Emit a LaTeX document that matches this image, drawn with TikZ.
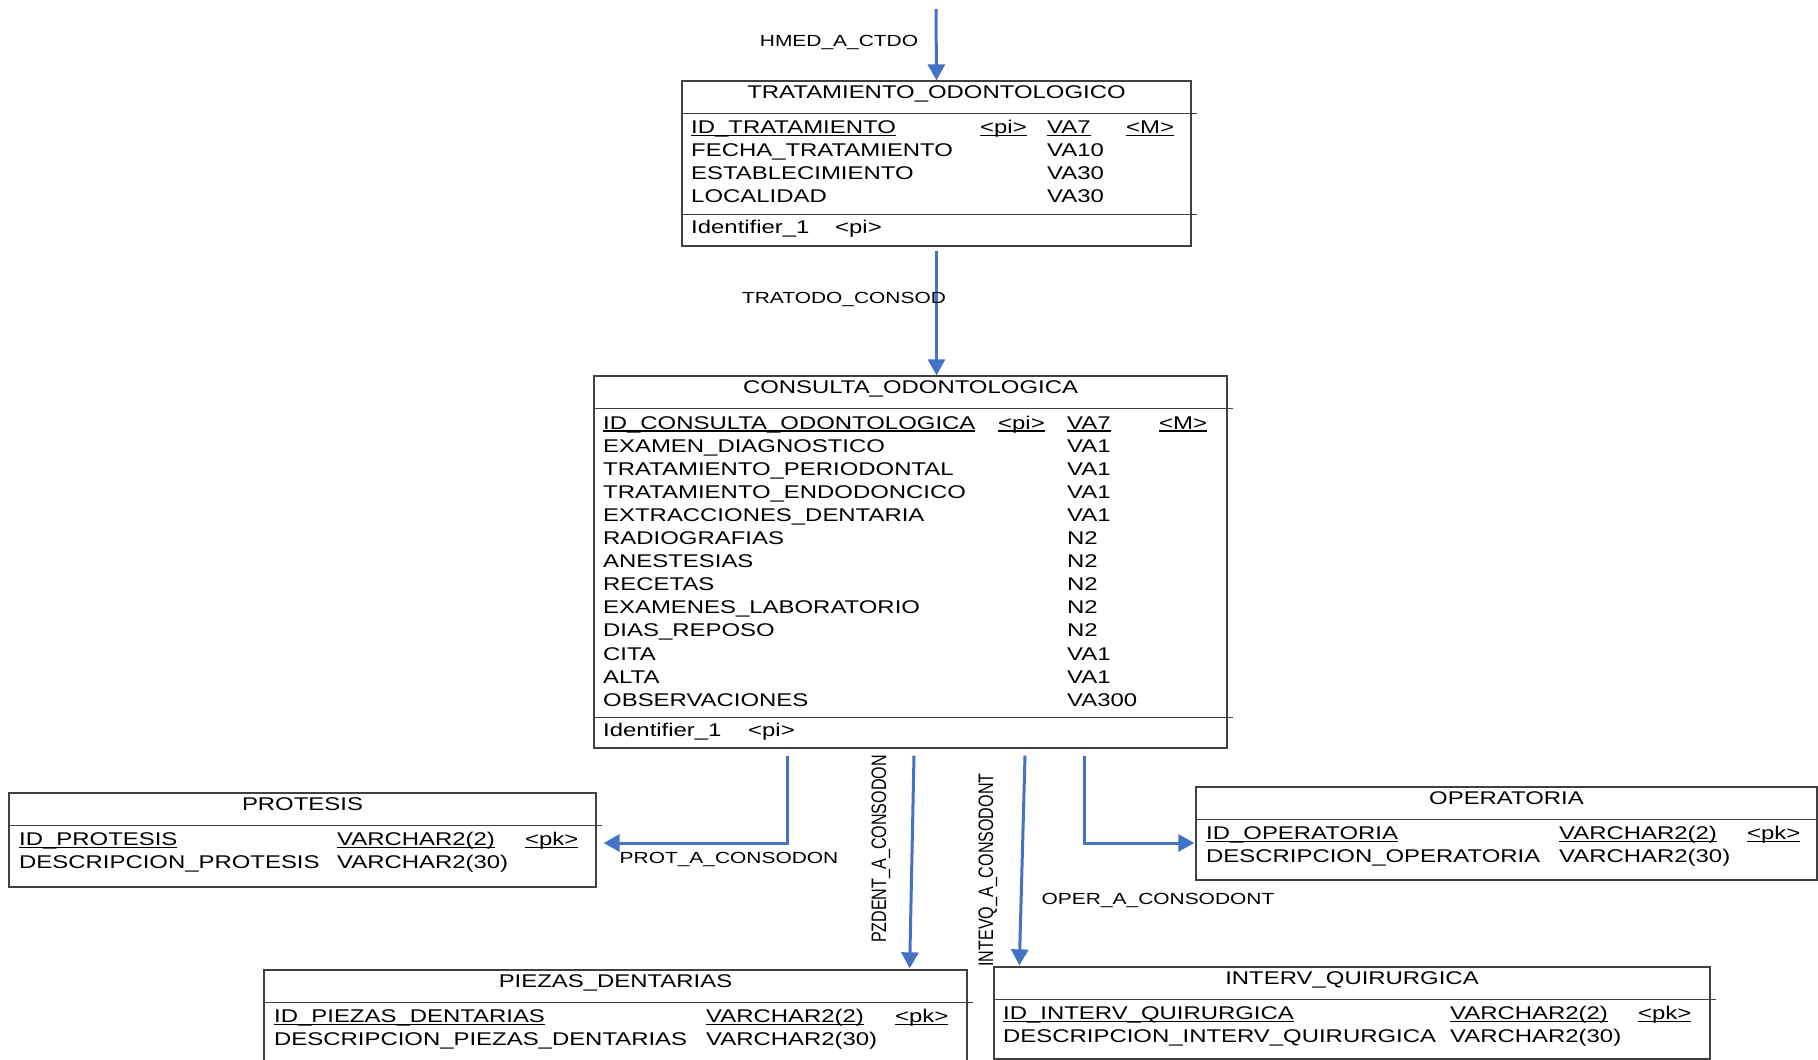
\documentclass[tikz,border=0pt]{standalone}
\usepackage{fontspec}
\usetikzlibrary{arrows.meta, calc}
\newfontfamily\erfont[FakeStretch=1.3]{Liberation Sans}
\newfontfamily\erplain{Liberation Sans}
\definecolor{erblue}{RGB}{68,114,196}
\definecolor{ergray}{RGB}{64,64,64}
\newcommand\tblfont{\erfont\fontsize{18.4pt}{21pt}\selectfont}
\newcommand\lblfont{\erfont\fontsize{16.1pt}{19pt}\selectfont}
\newcommand\vlblfont{\erplain\fontsize{16.1pt}{19pt}\selectfont}
\newcommand\vtext[1]{\scalebox{1}[1.3]{#1}}
\newsavebox\erbox
\newcommand\erul[1]{\sbox\erbox{#1}\rlap{\rule[-2.6pt]{\wd\erbox}{1.2pt}}\usebox\erbox}

\begin{document}
\begin{tikzpicture}[
    x=1pt, y=-1pt,
    box/.style={draw=ergray, line width=1.3pt, inner sep=0pt},
    sep/.style={draw=ergray, line width=1.3pt},
    title/.style={anchor=base, inner sep=0pt, font=\tblfont},
    attr/.style={anchor=base west, inner sep=0pt, font=\tblfont},
    conn/.style={draw=erblue, line width=3pt, -{Triangle[length=16pt, width=17pt]}},
    lbl/.style={inner sep=0pt, font=\lblfont},
    vlbl/.style={inner sep=0pt, font=\vlblfont, rotate=90}
]
    \useasboundingbox (0,0) rectangle (1818,1060);

    % TRATAMIENTO_ODONTOLOGICO
    \node[box, minimum width=509pt, minimum height=165pt] (trat) at (936.5,163.5) {};
    \node[title] (trat-title) at ($(trat.north)+(0,18)$) {TRATAMIENTO\_ODONTOLOGICO};
    \draw[sep] ($(trat.north west)+(0,33)$) -- ($(trat.north east)+(5,33)$);
    \node[attr] (trat-id) at (691,133.5) {\erul{ID\_TRATAMIENTO}};
    \node[attr] (trat-pi) at (980,133.5) {\erul{<pi>}};
    \node[attr] (trat-va) at (1047,133.5) {\erul{VA7}};
    \node[attr] (trat-m) at (1126,133.5) {\erul{<M>}};
    \foreach \n/\t [count=\i] in {FECHA\_TRATAMIENTO/VA10, ESTABLECIMIENTO/VA30, LOCALIDAD/VA30} {
        \node[attr] (trat-n\i) at (691,{133.5+23.1*\i}) {\n};
        \node[attr] (trat-t\i) at (1047,{133.5+23.1*\i}) {\t};
    }
    \draw[sep] ($(trat.south west)+(0,-32)$) -- ($(trat.south east)+(5,-32)$);
    \node[attr] (trat-key) at (691,233.5) {Identifier\_1};
    \node[attr] (trat-keypi) at (835,233.5) {<pi>};

    % CONSULTA_ODONTOLOGICA
    \node[box, minimum width=633pt, minimum height=372pt] (cons) at (910.5,562) {};
    \node[title] (cons-title) at ($(cons.north)+(0,18)$) {CONSULTA\_ODONTOLOGICA};
    \draw[sep] ($(cons.north west)+(0,33)$) -- ($(cons.north east)+(5,33)$);
    \node[attr] (cons-id) at (603,429) {\erul{ID\_CONSULTA\_ODONTOLOGICA}};
    \node[attr] (cons-pi) at (998,429) {\erul{<pi>}};
    \node[attr] (cons-va) at (1067,429) {\erul{VA7}};
    \node[attr] (cons-m) at (1159,429) {\erul{<M>}};
    \foreach \n/\t [count=\i] in {EXAMEN\_DIAGNOSTICO/VA1, TRATAMIENTO\_PERIODONTAL/VA1,
        TRATAMIENTO\_ENDODONCICO/VA1, EXTRACCIONES\_DENTARIA/VA1, RADIOGRAFIAS/N2,
        ANESTESIAS/N2, RECETAS/N2, EXAMENES\_LABORATORIO/N2, DIAS\_REPOSO/N2,
        CITA/VA1, ALTA/VA1, OBSERVACIONES/VA300} {
        \node[attr] (cons-n\i) at (603,{429+23.1*\i}) {\n};
        \node[attr] (cons-t\i) at (1067,{429+23.1*\i}) {\t};
    }
    \draw[sep] ($(cons.south west)+(0,-31)$) -- ($(cons.south east)+(5,-31)$);
    \node[attr] (cons-key) at (603,736.5) {Identifier\_1};
    \node[attr] (cons-keypi) at (748,736.5) {<pi>};

    % PROTESIS
    \node[box, minimum width=587pt, minimum height=94pt] (prot) at (302.5,840) {};
    \node[title] (prot-title) at ($(prot.north)+(0,18)$) {PROTESIS};
    \draw[sep] ($(prot.north west)+(0,33)$) -- ($(prot.north east)+(5,33)$);
    \node[attr] (prot-id) at (19,845.5) {\erul{ID\_PROTESIS}};
    \node[attr] (prot-va) at (337,845.5) {\erul{VARCHAR2(2)}};
    \node[attr] (prot-pk) at (525,845.5) {\erul{<pk>}};
    \node[attr] (prot-d) at (19,868.6) {DESCRIPCION\_PROTESIS};
    \node[attr] (prot-dt) at (337,868.6) {VARCHAR2(30)};

    % OPERATORIA
    \node[box, minimum width=621pt, minimum height=93pt] (oper) at (1506.5,833.5) {};
    \node[title] (oper-title) at ($(oper.north)+(0,18)$) {OPERATORIA};
    \draw[sep] ($(oper.north west)+(0,33)$) -- ($(oper.north east)+(5,33)$);
    \node[attr] (oper-id) at (1206,839.5) {\erul{ID\_OPERATORIA}};
    \node[attr] (oper-va) at (1559,839.5) {\erul{VARCHAR2(2)}};
    \node[attr] (oper-pk) at (1747,839.5) {\erul{<pk>}};
    \node[attr] (oper-d) at (1206,862.6) {DESCRIPCION\_OPERATORIA};
    \node[attr] (oper-dt) at (1559,862.6) {VARCHAR2(30)};

    % PIEZAS_DENTARIAS
    \node[box, minimum width=703pt, minimum height=94pt] (piez) at (615.5,1017) {};
    \node[title] (piez-title) at ($(piez.north)+(0,18)$) {PIEZAS\_DENTARIAS};
    \draw[sep] ($(piez.north west)+(0,33)$) -- ($(piez.north east)+(5,33)$);
    \node[attr] (piez-id) at (274,1022.5) {\erul{ID\_PIEZAS\_DENTARIAS}};
    \node[attr] (piez-va) at (706,1022.5) {\erul{VARCHAR2(2)}};
    \node[attr] (piez-pk) at (895,1022.5) {\erul{<pk>}};
    \node[attr] (piez-d) at (274,1045.6) {DESCRIPCION\_PIEZAS\_DENTARIAS};
    \node[attr] (piez-dt) at (706,1045.6) {VARCHAR2(30)};

    % INTERV_QUIRURGICA
    \node[box, minimum width=716pt, minimum height=92pt] (intv) at (1352,1013) {};
    \node[title] (intv-title) at ($(intv.north)+(0,18)$) {INTERV\_QUIRURGICA};
    \draw[sep] ($(intv.north west)+(0,33)$) -- ($(intv.north east)+(5,33)$);
    \node[attr] (intv-id) at (1003,1019.5) {\erul{ID\_INTERV\_QUIRURGICA}};
    \node[attr] (intv-va) at (1450,1019.5) {\erul{VARCHAR2(2)}};
    \node[attr] (intv-pk) at (1638,1019.5) {\erul{<pk>}};
    \node[attr] (intv-d) at (1003,1042.6) {DESCRIPCION\_INTERV\_QUIRURGICA};
    \node[attr] (intv-dt) at (1450,1042.6) {VARCHAR2(30)};

    % references
    \coordinate (hmed-s) at (936,9);
    \coordinate (tod-s) at ($(trat.south)+(0,4)$);
    \coordinate (prot-s) at ($(cons.south)+(-123.5,7)$);
    \coordinate (prot-e) at ($(prot.east)+(7,3)$);
    \coordinate (pzd-s) at ($(cons.south)+(3.5,7)$);
    \coordinate (pzd-e) at ($(piez.north east)+(-58,-1)$);
    \coordinate (ivq-s) at ($(cons.south)+(114.5,7)$);
    \coordinate (ivq-e) at ($(intv.north west)+(26,-1)$);
    \coordinate (oper-s) at ($(cons.south)+(173.5,7)$);
    \coordinate (oper-e) at ($(oper.west)+(-1,9.5)$);

    \draw[conn] (hmed-s) -- (trat.north);
    \draw[conn] (tod-s) -- (tod-s |- cons.north);
    \draw[conn] (prot-s) |- (prot-e);
    \draw[conn] (pzd-s) -- (pzd-e);
    \draw[conn] (ivq-s) -- (ivq-e);
    \draw[conn] (oper-s) |- (oper-e);

    \node[lbl] (hmed-lbl) at (839,42) {HMED\_A\_CTDO};
    \node[lbl] (tod-lbl) at (844,299) {TRATODO\_CONSOD};
    \node[lbl] (prot-lbl) at (729,859) {PROT\_A\_CONSODON};
    \node[vlbl] (pzd-lbl) at (881,849) {\vtext{PZDENT\_A\_CONSODON}};
    \node[vlbl] (ivq-lbl) at (988,870) {\vtext{INTEVQ\_A\_CONSODONT}};
    \node[lbl] (oper-lbl) at (1158,900) {OPER\_A\_CONSODONT};
\end{tikzpicture}
\end{document}
